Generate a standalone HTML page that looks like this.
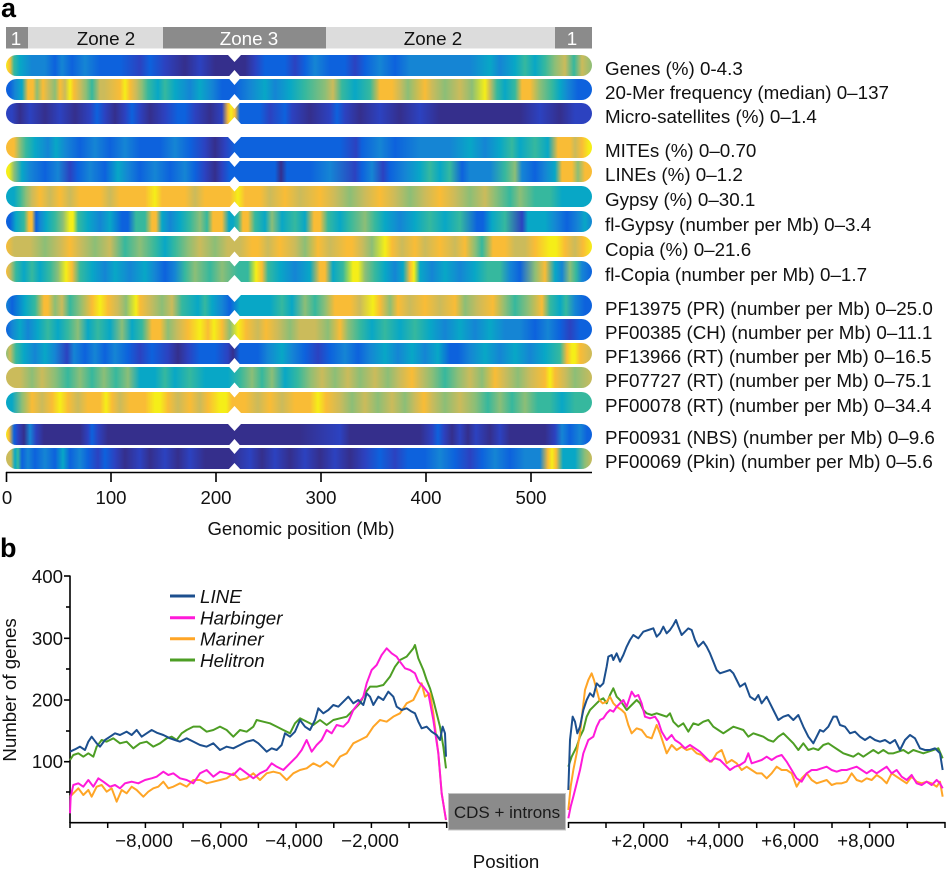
<!DOCTYPE html>
<html><head><meta charset="utf-8">
<style>
:root{--N:#352f8c;--D:#2c42c0;--B:#0d62dd;--L:#1585d4;--T:#08a7c6;--G:#36b89e;--O:#8cbe77;--K:#cbbb5b;--R:#f9bc36;--Y:#f5ee18;}
html,body{margin:0;padding:0;background:#fff;}
#wrap{position:relative;width:946px;height:869px;overflow:hidden;background:#fff;font-family:"Liberation Sans",Arial,sans-serif;}
.bar{position:absolute;left:6px;width:586px;height:21px;border-radius:10.5px;background-size:600px 100%;background-position:-6px 0;background-repeat:no-repeat;}
svg{position:absolute;left:0;top:0;}
</style></head><body><div id="wrap">

<div class="bar" style="top:55px;background-image:linear-gradient(90deg,var(--Y) 6px,var(--R) 10px,var(--G) 14px,var(--T) 20px,var(--L) 32px,var(--L) 45px,var(--B) 55px,var(--L) 62px,var(--B) 72px,var(--L) 85px,var(--B) 100px,var(--B) 120px,var(--D) 140px,var(--B) 150px,var(--D) 165px,var(--N) 185px,var(--D) 200px,var(--N) 215px,var(--N) 245px,var(--D) 255px,var(--B) 265px,var(--B) 285px,var(--D) 295px,var(--B) 305px,var(--L) 315px,var(--B) 330px,var(--B) 345px,var(--D) 355px,var(--B) 365px,var(--L) 380px,var(--B) 395px,var(--L) 410px,var(--L) 440px,var(--L) 470px,var(--T) 490px,var(--L) 500px,var(--T) 515px,var(--G) 525px,var(--T) 535px,var(--G) 545px,var(--O) 555px,var(--K) 565px,var(--G) 574px,var(--K) 582px,var(--O) 592px)"></div>

<div class="bar" style="top:79px;background-image:linear-gradient(90deg,var(--B) 6px,var(--B) 10px,var(--L) 15px,var(--T) 22px,var(--R) 28px,var(--R) 33px,var(--O) 37px,var(--R) 43px,var(--K) 48px,var(--O) 55px,var(--R) 60px,var(--K) 65px,var(--Y) 70px,var(--R) 74px,var(--K) 80px,var(--O) 86px,var(--G) 92px,var(--K) 100px,var(--K) 104px,var(--R) 120px,var(--Y) 125px,var(--R) 130px,var(--K) 136px,var(--O) 142px,var(--G) 148px,var(--T) 158px,var(--G) 165px,var(--T) 175px,var(--L) 190px,var(--T) 200px,var(--L) 212px,var(--B) 222px,var(--B) 235px,var(--L) 250px,var(--T) 265px,var(--L) 275px,var(--T) 290px,var(--G) 305px,var(--O) 325px,var(--K) 333px,var(--G) 342px,var(--T) 355px,var(--G) 370px,var(--R) 380px,var(--R) 392px,var(--K) 400px,var(--O) 408px,var(--R) 425px,var(--K) 432px,var(--O) 445px,var(--K) 460px,var(--O) 472px,var(--Y) 485px,var(--K) 490px,var(--G) 497px,var(--T) 505px,var(--G) 515px,var(--R) 522px,var(--R) 530px,var(--O) 540px,var(--G) 552px,var(--T) 560px,var(--L) 568px,var(--B) 578px,var(--B) 592px)"></div>

<div class="bar" style="top:103px;background-image:linear-gradient(90deg,var(--D) 6px,var(--D) 12px,var(--N) 20px,var(--D) 30px,var(--N) 45px,var(--D) 60px,var(--N) 75px,var(--D) 90px,var(--B) 97px,var(--D) 105px,var(--N) 115px,var(--D) 125px,var(--B) 132px,var(--D) 140px,var(--N) 150px,var(--D) 165px,var(--B) 178px,var(--B) 185px,var(--D) 195px,var(--N) 210px,var(--D) 222px,var(--R) 228px,var(--Y) 231px,var(--R) 235px,var(--B) 240px,var(--B) 260px,var(--D) 270px,var(--B) 285px,var(--D) 292px,var(--N) 310px,var(--D) 330px,var(--B) 337px,var(--D) 345px,var(--N) 360px,var(--D) 380px,var(--N) 400px,var(--D) 420px,var(--N) 440px,var(--N) 480px,var(--N) 520px,var(--D) 540px,var(--N) 560px,var(--D) 575px,var(--D) 592px)"></div>

<div class="bar" style="top:137px;background-image:linear-gradient(90deg,var(--R) 6px,var(--R) 14px,var(--O) 20px,var(--G) 26px,var(--T) 35px,var(--L) 48px,var(--T) 56px,var(--L) 66px,var(--B) 80px,var(--L) 95px,var(--B) 110px,var(--L) 125px,var(--B) 140px,var(--B) 160px,var(--L) 175px,var(--B) 190px,var(--D) 205px,var(--N) 215px,var(--D) 225px,var(--B) 235px,var(--B) 280px,var(--B) 300px,var(--B) 340px,var(--D) 356px,var(--B) 362px,var(--L) 380px,var(--B) 395px,var(--L) 420px,var(--L) 450px,var(--T) 470px,var(--L) 485px,var(--T) 500px,var(--G) 512px,var(--T) 520px,var(--G) 535px,var(--T) 548px,var(--R) 558px,var(--R) 570px,var(--K) 575px,var(--R) 582px,var(--Y) 589px,var(--Y) 592px)"></div>

<div class="bar" style="top:161px;background-image:linear-gradient(90deg,var(--Y) 6px,var(--Y) 9px,var(--O) 14px,var(--T) 22px,var(--L) 30px,var(--B) 45px,var(--L) 58px,var(--D) 70px,var(--B) 78px,var(--L) 90px,var(--B) 105px,var(--T) 118px,var(--L) 128px,var(--B) 140px,var(--L) 155px,var(--B) 170px,var(--L) 185px,var(--B) 195px,var(--D) 205px,var(--N) 215px,var(--D) 222px,var(--B) 230px,var(--B) 260px,var(--B) 275px,var(--N) 281px,var(--B) 287px,var(--B) 310px,var(--L) 330px,var(--D) 355px,var(--B) 362px,var(--L) 372px,var(--D) 383px,var(--B) 390px,var(--L) 405px,var(--T) 420px,var(--G) 430px,var(--T) 440px,var(--G) 450px,var(--B) 462px,var(--L) 470px,var(--L) 490px,var(--G) 505px,var(--O) 515px,var(--L) 522px,var(--B) 535px,var(--L) 545px,var(--T) 555px,var(--R) 562px,var(--R) 572px,var(--O) 578px,var(--R) 585px,var(--R) 592px)"></div>

<div class="bar" style="top:186px;background-image:linear-gradient(90deg,var(--T) 6px,var(--T) 14px,var(--G) 20px,var(--O) 26px,var(--K) 32px,var(--R) 40px,var(--K) 50px,var(--R) 60px,var(--K) 70px,var(--R) 80px,var(--R) 100px,var(--K) 110px,var(--R) 120px,var(--R) 145px,var(--Y) 155px,var(--R) 162px,var(--R) 185px,var(--K) 195px,var(--R) 205px,var(--R) 230px,var(--Y) 238px,var(--R) 245px,var(--R) 260px,var(--K) 270px,var(--R) 285px,var(--K) 300px,var(--R) 320px,var(--K) 335px,var(--O) 350px,var(--K) 365px,var(--R) 380px,var(--K) 395px,var(--O) 410px,var(--K) 425px,var(--R) 440px,var(--K) 455px,var(--O) 470px,var(--K) 485px,var(--O) 495px,var(--G) 510px,var(--O) 520px,var(--G) 535px,var(--G) 550px,var(--T) 562px,var(--T) 592px)"></div>

<div class="bar" style="top:211px;background-image:linear-gradient(90deg,var(--B) 6px,var(--B) 10px,var(--T) 16px,var(--G) 24px,var(--R) 29px,var(--R) 32px,var(--B) 36px,var(--L) 40px,var(--T) 46px,var(--G) 55px,var(--O) 63px,var(--Y) 70px,var(--Y) 73px,var(--G) 78px,var(--T) 88px,var(--L) 100px,var(--T) 110px,var(--B) 122px,var(--B) 128px,var(--G) 136px,var(--G) 145px,var(--R) 152px,var(--R) 156px,var(--T) 162px,var(--L) 170px,var(--T) 180px,var(--G) 190px,var(--O) 200px,var(--G) 207px,var(--R) 213px,var(--R) 222px,var(--T) 229px,var(--T) 233px,var(--G) 238px,var(--R) 243px,var(--R) 248px,var(--G) 255px,var(--T) 265px,var(--O) 272px,var(--T) 282px,var(--G) 295px,var(--T) 305px,var(--R) 314px,var(--R) 320px,var(--G) 328px,var(--T) 340px,var(--G) 350px,var(--O) 365px,var(--G) 375px,var(--T) 385px,var(--L) 400px,var(--T) 415px,var(--G) 430px,var(--T) 445px,var(--G) 460px,var(--B) 477px,var(--B) 483px,var(--T) 492px,var(--G) 505px,var(--D) 522px,var(--T) 528px,var(--T) 545px,var(--L) 556px,var(--B) 567px,var(--L) 578px,var(--T) 585px,var(--L) 592px)"></div>

<div class="bar" style="top:236px;background-image:linear-gradient(90deg,var(--R) 6px,var(--K) 14px,var(--K) 30px,var(--O) 45px,var(--K) 60px,var(--R) 70px,var(--K) 80px,var(--O) 95px,var(--K) 110px,var(--G) 125px,var(--O) 140px,var(--G) 155px,var(--T) 165px,var(--G) 175px,var(--O) 188px,var(--K) 200px,var(--O) 215px,var(--K) 228px,var(--K) 240px,var(--R) 252px,var(--R) 258px,var(--K) 268px,var(--R) 280px,var(--K) 295px,var(--O) 305px,var(--R) 318px,var(--K) 330px,var(--R) 347px,var(--R) 352px,var(--K) 362px,var(--O) 372px,var(--Y) 385px,var(--R) 392px,var(--K) 402px,var(--R) 415px,var(--K) 425px,var(--R) 440px,var(--K) 455px,var(--R) 465px,var(--O) 475px,var(--G) 482px,var(--R) 493px,var(--R) 505px,var(--K) 515px,var(--K) 525px,var(--R) 535px,var(--Y) 550px,var(--Y) 556px,var(--R) 565px,var(--K) 575px,var(--R) 583px,var(--Y) 592px)"></div>

<div class="bar" style="top:261px;background-image:linear-gradient(90deg,var(--R) 6px,var(--K) 10px,var(--G) 16px,var(--T) 24px,var(--G) 32px,var(--T) 40px,var(--G) 50px,var(--O) 58px,var(--Y) 66px,var(--R) 72px,var(--G) 80px,var(--T) 92px,var(--L) 105px,var(--T) 115px,var(--L) 130px,var(--T) 145px,var(--L) 155px,var(--B) 165px,var(--L) 175px,var(--G) 185px,var(--O) 195px,var(--G) 210px,var(--O) 222px,var(--G) 238px,var(--G) 248px,var(--Y) 256px,var(--R) 262px,var(--G) 268px,var(--T) 280px,var(--L) 295px,var(--T) 310px,var(--R) 320px,var(--R) 325px,var(--T) 333px,var(--G) 343px,var(--Y) 353px,var(--Y) 358px,var(--O) 365px,var(--G) 375px,var(--T) 385px,var(--L) 395px,var(--T) 403px,var(--R) 410px,var(--Y) 414px,var(--T) 420px,var(--L) 432px,var(--T) 445px,var(--L) 460px,var(--T) 475px,var(--G) 488px,var(--G) 500px,var(--L) 510px,var(--B) 520px,var(--O) 535px,var(--R) 545px,var(--T) 555px,var(--L) 562px,var(--O) 570px,var(--G) 576px,var(--L) 582px,var(--B) 592px)"></div>

<div class="bar" style="top:295px;background-image:linear-gradient(90deg,var(--L) 6px,var(--B) 12px,var(--T) 25px,var(--G) 35px,var(--R) 44px,var(--R) 48px,var(--O) 55px,var(--K) 62px,var(--G) 70px,var(--O) 80px,var(--R) 92px,var(--Y) 100px,var(--R) 108px,var(--K) 118px,var(--O) 126px,var(--Y) 136px,var(--R) 140px,var(--K) 150px,var(--O) 162px,var(--K) 172px,var(--G) 182px,var(--T) 198px,var(--G) 205px,var(--T) 212px,var(--L) 222px,var(--B) 230px,var(--T) 240px,var(--T) 270px,var(--G) 282px,var(--T) 292px,var(--O) 305px,var(--G) 315px,var(--O) 325px,var(--R) 335px,var(--R) 350px,var(--K) 360px,var(--Y) 373px,var(--R) 380px,var(--O) 390px,var(--R) 398px,var(--K) 410px,var(--R) 425px,var(--K) 440px,var(--R) 455px,var(--O) 465px,var(--K) 478px,var(--R) 493px,var(--O) 505px,var(--G) 515px,var(--O) 528px,var(--R) 542px,var(--G) 550px,var(--T) 560px,var(--G) 566px,var(--L) 575px,var(--B) 585px,var(--B) 592px)"></div>

<div class="bar" style="top:319px;background-image:linear-gradient(90deg,var(--B) 6px,var(--L) 12px,var(--T) 20px,var(--L) 28px,var(--T) 38px,var(--G) 48px,var(--T) 58px,var(--G) 68px,var(--O) 78px,var(--T) 88px,var(--G) 98px,var(--T) 110px,var(--O) 122px,var(--T) 132px,var(--G) 142px,var(--R) 152px,var(--R) 160px,var(--O) 168px,var(--K) 178px,var(--R) 188px,var(--Y) 200px,var(--R) 208px,var(--Y) 214px,var(--R) 222px,var(--O) 230px,var(--Y) 238px,var(--R) 246px,var(--K) 258px,var(--R) 266px,var(--K) 278px,var(--O) 290px,var(--K) 300px,var(--K) 315px,var(--O) 328px,var(--R) 340px,var(--O) 348px,var(--G) 360px,var(--T) 372px,var(--G) 385px,var(--T) 400px,var(--G) 415px,var(--T) 430px,var(--L) 445px,var(--T) 460px,var(--L) 475px,var(--T) 490px,var(--L) 505px,var(--L) 520px,var(--B) 535px,var(--L) 548px,var(--B) 560px,var(--D) 570px,var(--B) 580px,var(--B) 592px)"></div>

<div class="bar" style="top:343px;background-image:linear-gradient(90deg,var(--O) 6px,var(--K) 10px,var(--G) 16px,var(--T) 24px,var(--L) 35px,var(--T) 45px,var(--L) 55px,var(--D) 67px,var(--L) 74px,var(--B) 85px,var(--L) 95px,var(--B) 105px,var(--L) 115px,var(--B) 128px,var(--D) 140px,var(--B) 152px,var(--D) 168px,var(--N) 178px,var(--D) 188px,var(--B) 200px,var(--B) 215px,var(--D) 228px,var(--N) 233px,var(--B) 240px,var(--B) 258px,var(--L) 268px,var(--T) 282px,var(--L) 292px,var(--B) 305px,var(--D) 318px,var(--B) 330px,var(--L) 345px,var(--B) 358px,var(--L) 370px,var(--T) 385px,var(--L) 398px,var(--T) 412px,var(--L) 425px,var(--T) 438px,var(--B) 450px,var(--B) 458px,var(--L) 470px,var(--T) 485px,var(--L) 500px,var(--T) 515px,var(--L) 530px,var(--T) 545px,var(--G) 560px,var(--R) 567px,var(--Y) 572px,var(--Y) 575px,var(--R) 580px,var(--K) 592px)"></div>

<div class="bar" style="top:367px;background-image:linear-gradient(90deg,var(--K) 6px,var(--K) 20px,var(--O) 32px,var(--K) 42px,var(--O) 55px,var(--G) 68px,var(--O) 80px,var(--G) 92px,var(--O) 104px,var(--G) 116px,var(--O) 128px,var(--T) 140px,var(--T) 155px,var(--G) 165px,var(--T) 175px,var(--G) 190px,var(--T) 205px,var(--T) 228px,var(--G) 240px,var(--O) 252px,var(--G) 262px,var(--O) 272px,var(--T) 285px,var(--G) 298px,var(--O) 310px,var(--K) 322px,var(--O) 335px,var(--K) 348px,var(--O) 360px,var(--K) 375px,var(--O) 388px,var(--K) 400px,var(--R) 412px,var(--K) 420px,var(--O) 432px,var(--G) 445px,var(--O) 458px,var(--K) 470px,var(--O) 482px,var(--R) 495px,var(--K) 505px,var(--O) 518px,var(--K) 530px,var(--R) 545px,var(--Y) 550px,var(--R) 555px,var(--K) 565px,var(--O) 575px,var(--K) 592px)"></div>

<div class="bar" style="top:392px;background-image:linear-gradient(90deg,var(--T) 6px,var(--T) 12px,var(--O) 22px,var(--R) 32px,var(--K) 42px,var(--R) 52px,var(--Y) 60px,var(--R) 68px,var(--K) 78px,var(--R) 88px,var(--R) 100px,var(--Y) 106px,var(--R) 112px,var(--K) 120px,var(--R) 130px,var(--R) 145px,var(--Y) 155px,var(--Y) 160px,var(--R) 168px,var(--K) 178px,var(--R) 190px,var(--K) 200px,var(--R) 208px,var(--Y) 220px,var(--Y) 226px,var(--R) 232px,var(--R) 245px,var(--K) 258px,var(--R) 270px,var(--K) 282px,var(--R) 295px,var(--R) 310px,var(--Y) 318px,var(--R) 326px,var(--K) 340px,var(--O) 352px,var(--K) 365px,var(--O) 378px,var(--K) 392px,var(--O) 405px,var(--K) 415px,var(--R) 424px,var(--K) 432px,var(--O) 445px,var(--K) 460px,var(--O) 475px,var(--G) 488px,var(--O) 500px,var(--G) 512px,var(--O) 525px,var(--G) 538px,var(--G) 550px,var(--T) 562px,var(--G) 575px,var(--G) 592px)"></div>

<div class="bar" style="top:424px;background-image:linear-gradient(90deg,var(--Y) 6px,var(--R) 9px,var(--B) 14px,var(--D) 18px,var(--N) 24px,var(--L) 30px,var(--D) 36px,var(--N) 44px,var(--N) 80px,var(--D) 88px,var(--B) 92px,var(--D) 98px,var(--N) 108px,var(--N) 300px,var(--D) 340px,var(--N) 350px,var(--N) 420px,var(--D) 432px,var(--B) 438px,var(--D) 444px,var(--N) 452px,var(--D) 460px,var(--N) 468px,var(--D) 476px,var(--N) 490px,var(--D) 500px,var(--N) 510px,var(--N) 545px,var(--D) 555px,var(--L) 562px,var(--B) 570px,var(--L) 580px,var(--B) 587px,var(--B) 592px)"></div>

<div class="bar" style="top:448px;background-image:linear-gradient(90deg,var(--K) 6px,var(--K) 11px,var(--T) 15px,var(--G) 18px,var(--B) 22px,var(--L) 28px,var(--B) 35px,var(--L) 45px,var(--B) 55px,var(--T) 63px,var(--B) 70px,var(--L) 80px,var(--B) 88px,var(--D) 98px,var(--B) 105px,var(--D) 115px,var(--N) 125px,var(--D) 140px,var(--N) 150px,var(--D) 165px,var(--N) 178px,var(--D) 190px,var(--N) 205px,var(--N) 230px,var(--D) 250px,var(--N) 262px,var(--D) 275px,var(--N) 290px,var(--D) 305px,var(--N) 320px,var(--D) 335px,var(--N) 350px,var(--D) 365px,var(--B) 380px,var(--D) 395px,var(--B) 408px,var(--B) 425px,var(--L) 440px,var(--B) 455px,var(--D) 470px,var(--B) 482px,var(--L) 495px,var(--B) 510px,var(--L) 525px,var(--L) 540px,var(--R) 548px,var(--Y) 552px,var(--R) 556px,var(--T) 563px,var(--T) 575px,var(--O) 585px,var(--K) 592px)"></div>

<svg width="946" height="869" viewBox="0 0 946 869" xmlns="http://www.w3.org/2000/svg" font-family="Liberation Sans, Arial, sans-serif">
  <!-- centromere notches -->
  <g fill="#fff">
    <polygon points="228,55 241,55 234.5,62"/>
    <polygon points="228,77.5 234.5,70 241,77.5 234.5,85"/>
    <polygon points="228,101.5 234.5,94 241,101.5 234.5,109"/>
    <polygon points="228,124 241,124 234.5,117"/>
    <polygon points="228,137 241,137 234.5,144"/>
    <polygon points="228,159.5 234.5,152 241,159.5 234.5,167"/>
    <polygon points="228,184 234.5,176.5 241,184 234.5,191.5"/>
    <polygon points="228,209 234.5,201.5 241,209 234.5,216.5"/>
    <polygon points="228,234 234.5,226.5 241,234 234.5,241.5"/>
    <polygon points="228,259 234.5,251.5 241,259 234.5,266.5"/>
    <polygon points="228,282 241,282 234.5,275"/>
    <polygon points="228,295 241,295 234.5,302"/>
    <polygon points="228,317.5 234.5,310 241,317.5 234.5,325"/>
    <polygon points="228,341.5 234.5,334 241,341.5 234.5,349"/>
    <polygon points="228,365.5 234.5,358 241,365.5 234.5,373"/>
    <polygon points="228,390 234.5,382.5 241,390 234.5,397.5"/>
    <polygon points="228,413 241,413 234.5,406"/>
    <polygon points="228,424 241,424 234.5,431"/>
    <polygon points="228,446.5 234.5,439 241,446.5 234.5,454"/>
    <polygon points="228,470 241,470 234.5,463"/>
  </g>

  <!-- panel label a -->
  <text x="1" y="17" font-size="27" font-weight="bold" fill="#000">a</text>

  <!-- zone bar -->
  <rect x="6" y="27" width="22" height="21.5" fill="#8b8b8b"/>
  <rect x="28" y="27" width="135" height="21.5" fill="#dcdcdc"/>
  <rect x="163" y="27" width="163" height="21.5" fill="#8b8b8b"/>
  <rect x="326" y="27" width="229" height="21.5" fill="#dcdcdc"/>
  <rect x="555" y="27" width="37" height="21.5" fill="#8b8b8b"/>
  <g font-size="18.8" text-anchor="middle">
    <text x="16" y="45" fill="#fff">1</text>
    <text x="106" y="45" fill="#111">Zone 2</text>
    <text x="249" y="45" fill="#fff">Zone 3</text>
    <text x="433" y="45" fill="#111">Zone 2</text>
    <text x="572" y="45" fill="#fff">1</text>
  </g>

  <!-- row labels -->
  <g font-size="18.8" fill="#111">
    <text x="605" y="75">Genes (%) 0-4.3</text>
    <text x="605" y="99">20-Mer frequency (median) 0–137</text>
    <text x="605" y="123">Micro-satellites (%) 0–1.4</text>
    <text x="605" y="157">MITEs (%) 0–0.70</text>
    <text x="605" y="181">LINEs (%) 0–1.2</text>
    <text x="605" y="206">Gypsy (%) 0–30.1</text>
    <text x="605" y="231">fl-Gypsy (number per Mb) 0–3.4</text>
    <text x="605" y="256">Copia (%) 0–21.6</text>
    <text x="605" y="281">fl-Copia (number per Mb) 0–1.7</text>
    <text x="605" y="315">PF13975 (PR) (number per Mb) 0–25.0</text>
    <text x="605" y="339">PF00385 (CH) (number per Mb) 0–11.1</text>
    <text x="605" y="363">PF13966 (RT) (number per Mb) 0–16.5</text>
    <text x="605" y="387">PF07727 (RT) (number per Mb) 0–75.1</text>
    <text x="605" y="412">PF00078 (RT) (number per Mb) 0–34.4</text>
    <text x="605" y="444">PF00931 (NBS) (number per Mb) 0–9.6</text>
    <text x="605" y="468">PF00069 (Pkin) (number per Mb) 0–5.6</text>
  </g>

  <!-- panel a axis -->
  <g stroke="#000" stroke-width="1.6" fill="none">
    <line x1="6" y1="472.5" x2="592" y2="472.5"/>
    <line x1="6.5" y1="472" x2="6.5" y2="482"/>
    <line x1="111" y1="472" x2="111" y2="482"/>
    <line x1="216" y1="472" x2="216" y2="482"/>
    <line x1="321" y1="472" x2="321" y2="482"/>
    <line x1="426" y1="472" x2="426" y2="482"/>
    <line x1="531" y1="472" x2="531" y2="482"/>
  </g>
  <g font-size="18.6" text-anchor="middle" fill="#111">
    <text x="7" y="504">0</text>
    <text x="111" y="504">100</text>
    <text x="216" y="504">200</text>
    <text x="321" y="504">300</text>
    <text x="426" y="504">400</text>
    <text x="531" y="504">500</text>
    <text x="301" y="535">Genomic position (Mb)</text>
  </g>

  <!-- panel b -->
  <text x="0" y="557" font-size="27" font-weight="bold" fill="#000">b</text>

  <g stroke="#000" stroke-width="1.6" fill="none">
    <line x1="70" y1="575.5" x2="70" y2="823"/>
    <line x1="64" y1="576" x2="70" y2="576"/>
    <line x1="66" y1="607" x2="70" y2="607"/>
    <line x1="64" y1="638.3" x2="70" y2="638.3"/>
    <line x1="66" y1="669" x2="70" y2="669"/>
    <line x1="64" y1="700" x2="70" y2="700"/>
    <line x1="66" y1="731" x2="70" y2="731"/>
    <line x1="64" y1="761.7" x2="70" y2="761.7"/>
    <line x1="66" y1="792" x2="70" y2="792"/>
    <line x1="70" y1="822.7" x2="447" y2="822.7"/>
    <line x1="568.3" y1="822.7" x2="945.5" y2="822.7"/>
  </g>
  <g stroke="#000" stroke-width="1.5">
    <line x1="70" y1="822" x2="70" y2="828"/>
    <line x1="107.7" y1="822" x2="107.7" y2="828"/>
    <line x1="145.4" y1="822" x2="145.4" y2="828"/>
    <line x1="183.1" y1="822" x2="183.1" y2="828"/>
    <line x1="220.8" y1="822" x2="220.8" y2="828"/>
    <line x1="258.4" y1="822" x2="258.4" y2="828"/>
    <line x1="296.1" y1="822" x2="296.1" y2="828"/>
    <line x1="333.8" y1="822" x2="333.8" y2="828"/>
    <line x1="371.4" y1="822" x2="371.4" y2="828"/>
    <line x1="409.1" y1="822" x2="409.1" y2="828"/>
    <line x1="446.7" y1="822" x2="446.7" y2="828"/>
    <line x1="568.5" y1="822" x2="568.5" y2="828"/>
    <line x1="606" y1="822" x2="606" y2="828"/>
    <line x1="643.7" y1="822" x2="643.7" y2="828"/>
    <line x1="681.3" y1="822" x2="681.3" y2="828"/>
    <line x1="719" y1="822" x2="719" y2="828"/>
    <line x1="756.7" y1="822" x2="756.7" y2="828"/>
    <line x1="794.3" y1="822" x2="794.3" y2="828"/>
    <line x1="832" y1="822" x2="832" y2="828"/>
    <line x1="869.6" y1="822" x2="869.6" y2="828"/>
    <line x1="907.3" y1="822" x2="907.3" y2="828"/>
    <line x1="945" y1="822" x2="945" y2="828"/>
  </g>

  <g font-size="18.7" fill="#111">
    <g text-anchor="end">
      <text x="63" y="583">400</text>
      <text x="63" y="645">300</text>
      <text x="63" y="706.5">200</text>
      <text x="63" y="768">100</text>
    </g>
    <g text-anchor="middle">
      <text x="144" y="847">−8,000</text>
      <text x="219" y="847">−6,000</text>
      <text x="294" y="847">−4,000</text>
      <text x="370" y="847">−2,000</text>
      <text x="640" y="847">+2,000</text>
      <text x="715" y="847">+4,000</text>
      <text x="790" y="847">+6,000</text>
      <text x="866" y="847">+8,000</text>
      <text x="506" y="868">Position</text>
    </g>
    <text transform="translate(16,690) rotate(-90)" text-anchor="middle">Number of genes</text>
  </g>

  <!-- CDS box -->
  <rect x="448.5" y="793.5" width="117" height="36.5" fill="#8b8b8b" stroke="#c4c4c4" stroke-width="1"/>
  <text x="507" y="818" font-size="17" text-anchor="middle" fill="#1a1a1a">CDS + introns</text>

  <!-- legend -->
  <g stroke-width="3">
    <line x1="170" y1="596" x2="195" y2="596" stroke="#1c4f8e"/>
    <line x1="170" y1="617.7" x2="195" y2="617.7" stroke="#ff1ad9"/>
    <line x1="170" y1="638.7" x2="195" y2="638.7" stroke="#ffa526"/>
    <line x1="170" y1="660" x2="195" y2="660" stroke="#4d9e24"/>
  </g>
  <g font-size="18.8" font-style="italic" fill="#111">
    <text x="200" y="603">LINE</text>
    <text x="200" y="624.5">Harbinger</text>
    <text x="200" y="645.5">Mariner</text>
    <text x="200" y="667">Helitron</text>
  </g>

  <!-- curves left -->
  <g transform="translate(0,540) scale(0.33333)" fill="none" stroke-width="6" stroke-linejoin="round">
    <polyline stroke="#4d9e24" points="210,660 220,645 235,640 250,650 265,640 280,650 290,620 305,600 320,605 340,595 360,610 380,605 400,625 420,610 440,605 460,620 480,610 500,595 515,590 530,600 545,580 560,570 580,560 600,560 620,575 640,570 660,560 680,570 700,590 720,570 740,575 760,560 770,540 790,545 810,550 830,560 850,570 870,580 885,550 900,535 920,545 940,555 960,540 980,555 1000,540 1020,535 1040,530 1060,510 1080,490 1095,460 1110,440 1130,440 1150,435 1170,410 1185,380 1200,360 1220,350 1240,325 1245,315 1255,355 1270,390 1280,420 1290,445 1300,480 1310,520 1320,560 1330,620 1338,685"/>
    <polyline stroke="#ffa526" points="210,770 220,760 235,745 250,765 265,750 275,770 290,740 305,735 320,755 335,745 350,785 365,750 380,760 395,740 410,750 430,770 445,755 460,745 475,740 490,725 505,745 520,740 540,730 560,740 580,720 600,720 620,730 640,725 660,720 680,715 700,700 720,720 740,715 760,700 780,720 800,700 820,695 840,700 860,720 880,700 900,690 920,685 940,670 960,680 980,665 1000,680 1020,650 1040,640 1060,610 1080,600 1100,590 1120,560 1140,540 1160,545 1180,530 1200,520 1220,490 1240,480 1255,450 1265,430 1275,470 1290,460 1300,520 1315,640 1325,760 1338,840"/>
    <polyline stroke="#ff1ad9" points="210,820 212,770 220,735 235,730 250,740 265,720 280,740 295,715 310,725 330,740 345,735 360,745 375,730 395,725 415,730 435,720 455,715 470,710 490,695 505,705 520,700 540,715 560,720 580,730 600,700 620,690 640,710 660,695 680,700 700,705 720,685 740,700 760,715 780,700 800,690 815,670 830,680 850,690 870,670 890,650 905,630 920,600 935,635 950,615 965,600 980,570 995,580 1010,555 1030,560 1045,545 1060,510 1075,490 1090,470 1100,430 1115,390 1130,375 1145,345 1160,325 1175,340 1190,350 1200,365 1215,385 1230,390 1245,400 1255,425 1270,440 1285,460 1300,540 1315,640 1325,760 1338,840"/>
    <polyline stroke="#1c4f8e" points="210,635 225,628 240,620 255,630 265,605 275,590 290,610 300,620 315,600 330,590 345,580 360,585 380,575 395,585 410,570 425,590 440,580 455,570 470,578 490,585 510,595 525,600 540,605 560,595 580,605 600,615 620,620 640,610 660,630 680,620 700,625 720,615 740,605 760,600 775,610 790,625 800,635 815,625 830,630 845,615 855,580 870,590 885,575 900,540 915,560 930,570 945,540 955,505 970,520 985,510 1000,495 1015,500 1030,485 1045,470 1060,490 1075,480 1090,495 1100,460 1110,470 1120,495 1135,470 1150,480 1165,455 1180,470 1190,500 1205,510 1220,505 1235,515 1245,520 1255,545 1265,565 1280,560 1295,575 1310,585 1320,600 1328,560 1335,580 1338,650"/>
  </g>

  <!-- curves right -->
  <g transform="translate(440,540) scale(0.33333)" fill="none" stroke-width="6" stroke-linejoin="round">
    <polyline stroke="#4d9e24" points="385,680 395,650 410,620 420,590 430,570 440,530 450,510 460,500 470,490 480,480 490,475 500,490 510,465 520,445 530,470 540,480 550,495 560,510 575,495 590,480 600,490 610,510 620,520 635,525 650,520 665,525 680,530 690,520 700,545 715,560 730,550 745,575 760,550 775,555 790,545 805,540 820,560 835,570 850,580 865,570 880,560 895,565 910,570 925,590 940,580 955,585 970,590 985,600 1000,605 1015,590 1030,580 1045,595 1060,610 1075,630 1090,610 1105,630 1120,625 1135,630 1150,615 1165,610 1180,620 1195,630 1210,640 1225,645 1240,650 1255,640 1270,650 1285,640 1300,630 1315,640 1330,630 1345,640 1360,640 1375,635 1390,630 1405,640 1420,630 1435,635 1450,640 1465,635 1480,630 1495,625 1508,655"/>
    <polyline stroke="#ffa526" points="385,810 392,740 400,690 410,640 420,580 428,510 435,450 445,420 455,400 462,420 470,450 478,480 488,490 500,485 510,470 520,490 530,500 545,510 555,520 565,555 575,580 590,565 605,570 620,590 635,595 650,555 660,580 670,610 680,640 695,615 710,630 725,620 740,630 755,625 770,640 785,645 800,660 815,665 830,640 845,630 860,670 875,660 890,670 905,690 920,680 935,690 950,700 965,700 980,715 995,700 1010,680 1025,690 1040,690 1055,700 1070,740 1085,715 1100,700 1115,720 1130,730 1145,725 1160,720 1175,735 1190,730 1205,730 1220,725 1235,700 1250,720 1265,725 1280,715 1295,720 1310,705 1325,715 1340,730 1355,700 1370,710 1385,720 1400,730 1415,710 1430,725 1445,730 1460,725 1475,730 1490,740 1500,725 1508,770"/>
    <polyline stroke="#ff1ad9" points="385,835 392,800 400,770 410,730 420,690 430,640 445,600 460,590 470,560 480,540 490,535 500,520 510,510 520,515 530,500 540,490 550,480 560,500 570,470 575,455 585,470 595,465 605,490 615,530 630,535 645,530 655,545 665,575 680,600 695,585 705,600 720,610 735,625 750,615 765,625 780,635 795,650 810,665 825,655 840,660 855,675 870,690 885,680 900,675 915,665 925,640 935,670 950,665 965,660 980,650 995,660 1010,650 1025,645 1040,665 1055,690 1070,715 1085,725 1100,700 1115,690 1130,690 1145,685 1160,680 1175,690 1190,695 1205,690 1220,690 1235,685 1250,680 1265,690 1280,700 1295,690 1310,700 1325,690 1340,680 1355,700 1370,690 1385,710 1400,720 1415,705 1430,730 1445,735 1460,725 1475,735 1490,720 1500,730 1508,745"/>
    <polyline stroke="#1c4f8e" points="385,750 390,600 398,530 405,545 412,580 420,560 430,510 440,480 450,460 460,470 470,430 480,440 490,430 500,380 505,350 515,345 520,360 530,340 540,365 550,345 560,320 570,300 580,285 595,295 610,275 625,270 640,265 650,290 660,280 670,260 680,280 690,270 700,255 708,240 715,260 725,285 735,275 745,265 755,270 765,300 775,320 790,305 800,320 810,340 820,365 830,390 840,400 855,395 870,390 880,400 890,420 900,440 915,430 930,470 945,480 955,465 965,490 980,470 990,490 1000,510 1015,540 1030,530 1045,525 1060,540 1075,525 1090,560 1105,590 1120,610 1140,570 1150,575 1165,560 1180,530 1190,530 1200,555 1215,560 1230,580 1245,575 1260,590 1275,600 1290,590 1305,600 1320,605 1335,600 1350,610 1365,600 1380,630 1395,600 1410,585 1425,595 1440,625 1455,630 1470,630 1485,625 1500,640 1508,690"/>
  </g>
</svg>
</div></body></html>
